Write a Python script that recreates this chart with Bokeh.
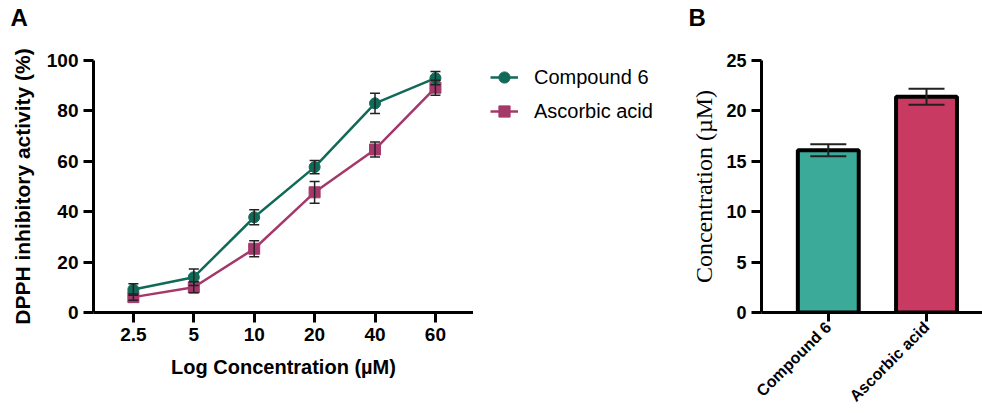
import math
import numpy as np
from bokeh.plotting import figure
from bokeh.layouts import row, column
from bokeh.models import (ColumnDataSource, Whisker, TeeHead, Legend, LegendItem,
                          FixedTicker, Label, Range1d)
from bokeh.embed import file_html
from bokeh.resources import INLINE

# ---- data ----
conc_labels = ["2.5", "5", "10", "20", "40", "60"]
compound6 = [9.1, 14.0, 37.8, 57.7, 83.0, 93.0]
compound6_err = [2.3, 3.3, 3.0, 2.6, 4.0, 2.6]
ascorbic = [6.1, 10.0, 25.3, 47.7, 64.7, 89.2]
ascorbic_err = [1.2, 2.2, 3.2, 4.3, 3.0, 3.0]
series_names = ["Compound 6", "Ascorbic acid"]

ic50_labels = ["Compound 6", "Ascorbic acid"]
ic50_values = [16.1, 21.4]
ic50_err = [0.6, 0.8]

panel_letters = ["A", "B"]

GREEN = "#116a58"
MAGENTA = "#a5386b"
BAR_COLORS = ["#3baa99", "#c93a62"]
SANS = "Liberation Sans"
HEAD = 40
H = 413 - HEAD

def style_axes(p, tick_size="19px"):
    for ax in (p.xaxis[0], p.yaxis[0]):
        ax.axis_line_width = 3
        ax.axis_line_color = "black"
        ax.major_tick_line_width = 3
        ax.major_tick_line_color = "black"
        ax.major_tick_out = 10
        ax.major_tick_in = 0
        ax.minor_tick_line_color = None
        ax.major_label_text_font = SANS
        ax.major_label_text_font_style = "bold"
        ax.major_label_text_font_size = tick_size
        ax.major_label_text_color = "black"
        ax.axis_label_text_color = "black"
    p.xgrid.grid_line_color = None
    p.ygrid.grid_line_color = None
    p.outline_line_color = None

# ---- header with panel letters ----
header = figure(width=982, height=HEAD, output_backend="svg", toolbar_location=None,
                x_range=Range1d(0, 1), y_range=Range1d(0, 1),
                x_axis_type=None, y_axis_type=None,
                min_border_left=0, min_border_right=0, min_border_top=0, min_border_bottom=0)
header.xgrid.grid_line_color = None
header.ygrid.grid_line_color = None
header.outline_line_color = None
for letter, sx in zip(panel_letters, [10, 688]):
    header.add_layout(Label(x=sx, y=HEAD - 30, x_units="screen", y_units="screen",
                            text=letter, text_font=SANS, text_font_style="bold",
                            text_font_size="24px", text_color="black"))

# ---- Panel A ----
idx = list(range(len(conc_labels)))
pA = figure(width=473, height=H, output_backend="svg", toolbar_location=None,
            x_range=Range1d(-0.66, 5.63), y_range=Range1d(0, 100),
            min_border_left=93, min_border_top=60 - HEAD, min_border_bottom=101,
            min_border_right=0)
style_axes(pA)
pA.xaxis.ticker = FixedTicker(ticks=idx)
pA.xaxis.major_label_overrides = {i: lab for i, lab in enumerate(conc_labels)}
pA.yaxis.ticker = FixedTicker(ticks=[0, 20, 40, 60, 80, 100])
pA.xaxis.axis_label = "Log Concentration (µM)"
pA.yaxis.axis_label = "DPPH inhibitory activity (%)"
for ax, fs in ((pA.xaxis[0], "20px"), (pA.yaxis[0], "21px")):
    ax.axis_label_text_font = SANS
    ax.axis_label_text_font_style = "bold"
    ax.axis_label_text_font_size = fs
pA.xaxis.axis_label_standoff = 12
pA.yaxis.axis_label_standoff = 10

srcC = ColumnDataSource(dict(x=idx, y=compound6,
                             lo=[v - e for v, e in zip(compound6, compound6_err)],
                             hi=[v + e for v, e in zip(compound6, compound6_err)]))
srcA = ColumnDataSource(dict(x=idx, y=ascorbic,
                             lo=[v - e for v, e in zip(ascorbic, ascorbic_err)],
                             hi=[v + e for v, e in zip(ascorbic, ascorbic_err)]))

pA.line("x", "y", source=srcA, line_color=MAGENTA, line_width=2.5)
pA.scatter("x", "y", source=srcA, marker="square", size=11,
           fill_color=MAGENTA, line_color=MAGENTA)
pA.line("x", "y", source=srcC, line_color=GREEN, line_width=2.5)
pA.scatter("x", "y", source=srcC, marker="circle", size=11,
           fill_color=GREEN, line_color=GREEN)

for src in (srcA, srcC):
    w = Whisker(source=src, base="x", lower="lo", upper="hi", level="annotation",
                line_color="#222222", line_width=1.5,
                upper_head=TeeHead(size=10, line_color="#222222", line_width=1.5),
                lower_head=TeeHead(size=10, line_color="#222222", line_width=1.5))
    pA.add_layout(w)

# ---- Legend panel (same series, drawn outside its visible range; only the legend shows) ----
pL = figure(width=215, height=H, output_backend="svg", toolbar_location=None,
            x_range=Range1d(0, 1), y_range=Range1d(1000, 1001),
            x_axis_type=None, y_axis_type=None,
            min_border_left=17, min_border_right=0, min_border_top=60 - HEAD,
            min_border_bottom=0)
pL.xgrid.grid_line_color = None
pL.ygrid.grid_line_color = None
pL.outline_line_color = None
items = []
for name, src, col, mk in zip(series_names, [srcC, srcA], [GREEN, MAGENTA],
                              ["circle", "square"]):
    l = pL.line("x", "y", source=src, line_color=col, line_width=2.5)
    m = pL.scatter("x", "y", source=src, marker=mk, size=11, fill_color=col, line_color=col)
    items.append(LegendItem(label=name, renderers=[l, m]))
legend = Legend(items=items, location="top_left", margin=0, padding=0, spacing=0,
                glyph_width=28, glyph_height=34, label_height=34,
                label_standoff=16, label_text_font=SANS,
                label_text_font_size="20px", label_text_color="black",
                border_line_color=None, background_fill_alpha=0)
pL.add_layout(legend)

# ---- Panel B ----
bidx = list(range(len(ic50_labels)))
pB = figure(width=294, height=H, output_backend="svg", toolbar_location=None,
            x_range=Range1d(-0.68, 1.57), y_range=Range1d(0, 25),
            min_border_left=69, min_border_top=59 - HEAD, min_border_bottom=101,
            min_border_right=0)
style_axes(pB, tick_size="18px")
pB.xaxis.ticker = FixedTicker(ticks=bidx)
pB.xaxis.major_label_overrides = {i: lab for i, lab in enumerate(ic50_labels)}
pB.xaxis.major_label_orientation = math.pi / 4
pB.xaxis.major_label_text_font_size = "16px"
pB.xaxis.major_label_standoff = 3
pB.xaxis.major_tick_out = 9
pB.yaxis.ticker = FixedTicker(ticks=[0, 5, 10, 15, 20, 25])
pB.yaxis.axis_label = "Concentration (µM)"
pB.yaxis.axis_label_text_font = "Liberation Serif"
pB.yaxis.axis_label_text_font_style = "normal"
pB.yaxis.axis_label_text_font_size = "24px"
pB.yaxis.axis_label_standoff = 6

srcB = ColumnDataSource(dict(x=bidx, top=ic50_values, color=BAR_COLORS,
                             lo=[v - e for v, e in zip(ic50_values, ic50_err)],
                             hi=[v + e for v, e in zip(ic50_values, ic50_err)]))
pB.vbar(x="x", top="top", width=0.62, source=srcB, fill_color="color",
        line_color="black", line_width=4)
wB = Whisker(source=srcB, base="x", lower="lo", upper="hi", level="annotation",
             line_color="#222222", line_width=2,
             upper_head=TeeHead(size=36, line_color="#222222", line_width=2),
             lower_head=TeeHead(size=36, line_color="#222222", line_width=2))
pB.add_layout(wB)

layout = column(header, row(pA, pL, pB, spacing=0), spacing=0)
open("out.html", "w").write(file_html(layout, INLINE))
